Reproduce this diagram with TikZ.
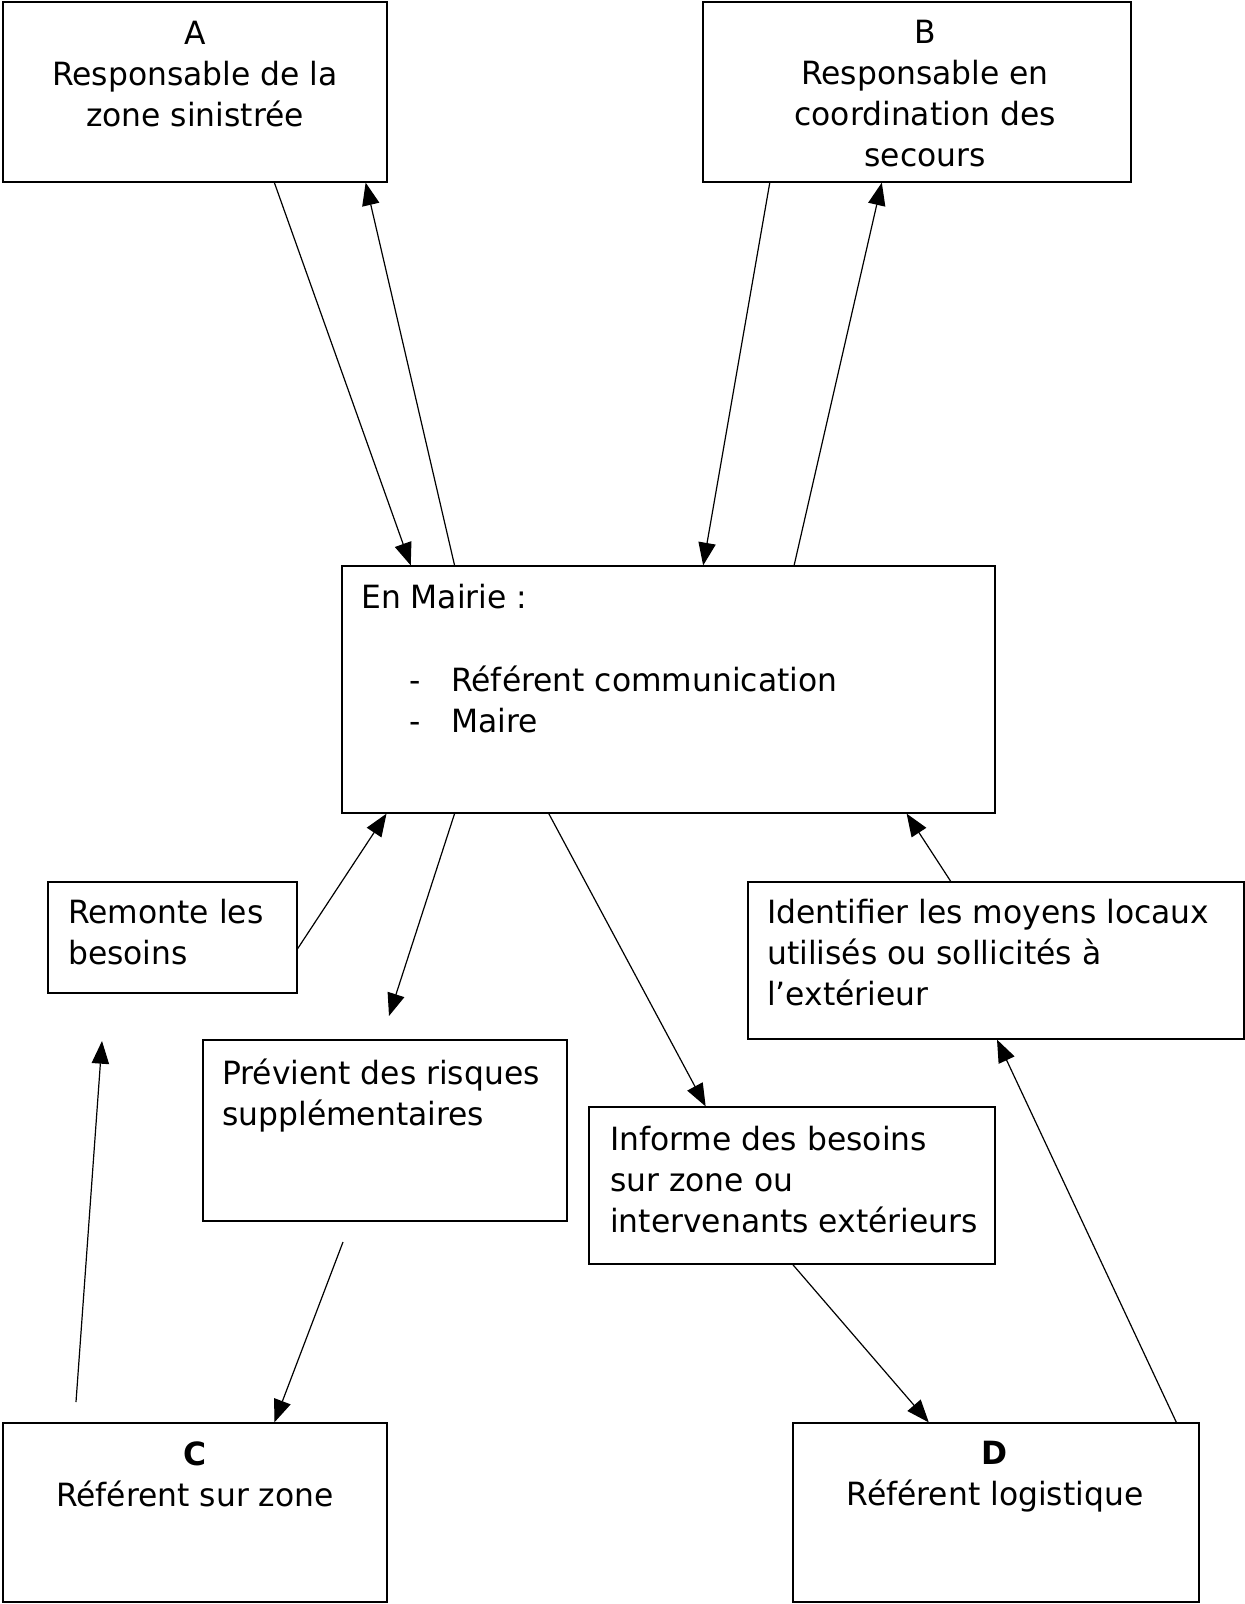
\documentclass[tikz,border=0pt]{standalone}
\usepackage{fontspec}
\setmainfont[FakeStretch=0.98]{DejaVu Sans}
\usetikzlibrary{calc,fit,arrows.meta}
\tikzset{
	box/.style={draw, line width=.9pt, inner sep=0pt},
	boxtext/.style={inner sep=0pt, font=\fontsize{24}{30.75}\selectfont},
	flow/.style={-{Triangle[length=17pt,width=13pt]}, line width=.9pt}
}

\begin{document}
\begin{tikzpicture}[x=.75pt, y=-.75pt]
	\useasboundingbox (0,0) rectangle (1245,1604);
	% boxes
	\foreach \boxName/\xA/\yA/\xB/\yB in {A/3/2/387/182, B/703/2/1131/182, mairie/342/566/995/813, remonte/48/882/297/993, previent/203/1040/567/1221, informe/589/1107/995/1264, identifier/748/882/1244/1039, C/3/1423/387/1602, D/793/1423/1199/1602}
	{
		\node[box, fit={(\xA,\yA) (\xB,\yB)}] (\boxName) {};
	}
	% texts
	\node[boxtext, align=center, anchor=north] (Atext) at (195,21) {A\\Responsable de la\\zone sinistrée};
	\node[boxtext, align=center, anchor=north] (Btext) at (925,20) {B\\Responsable en\\coordination des\\secours};
	\node[boxtext, anchor=north west] (mairieTitle) at (361,584) {En Mairie :};
	\node[boxtext, align=left, anchor=north west] (mairieList) at (409,666) {\makebox[31.5pt][l]{-}Référent communication\\\makebox[31.5pt][l]{-}Maire};
	\node[boxtext, align=left, anchor=north west] (remonteText) at (68,899) {Remonte les\\besoins};
	\node[boxtext, align=left, anchor=north west] (previentText) at (222,1059) {Prévient des risques\\supplémentaires};
	\node[boxtext, align=left, anchor=north west] (informeText) at (610,1126) {Informe des besoins\\sur zone ou\\intervenants extérieurs};
	\node[boxtext, align=left, anchor=north west] (identifierText) at (767,899) {Identifier les moyens locaux\\utilisés ou sollicités à\\l’extérieur};
	\node[boxtext, align=center, anchor=north] (Ctext) at (195,1441) {\bfseries C\\Référent sur zone};
	\node[boxtext, align=center, anchor=north] (Dtext) at (995,1441) {\bfseries D\\Référent logistique};
	% free ends
	\coordinate (previentTip) at (389,1016);
	\coordinate (previentStart) at (343,1242);
	\coordinate (cStart) at (76,1402);
	\coordinate (remonteTip) at (102,1041);
	% arrows
	\draw[flow] ($(A.south west)!.706!(A.south east)$) -- ($(mairie.north west)!.106!(mairie.north east)$);
	\draw[flow] ($(mairie.north west)!.173!(mairie.north east)$) -- ($(A.south west)!.943!(A.south east)$);
	\draw[flow] ($(B.south west)!.157!(B.south east)$) -- ($(mairie.north west)!.553!(mairie.north east)$);
	\draw[flow] ($(mairie.north west)!.692!(mairie.north east)$) -- ($(B.south west)!.418!(B.south east)$);
	\draw[flow] ($(remonte.north east)!.6!(remonte.south east)$) -- ($(mairie.south west)!.069!(mairie.south east)$);
	\draw[flow] ($(mairie.south west)!.173!(mairie.south east)$) -- (previentTip);
	\draw[flow] ($(mairie.south west)!.317!(mairie.south east)$) -- ($(informe.north west)!.288!(informe.north east)$);
	\draw[flow] ($(identifier.north west)!.409!(identifier.north east)$) -- ($(mairie.south west)!.864!(mairie.south east)$);
	\draw[flow] (cStart) -- (remonteTip);
	\draw[flow] (previentStart) -- ($(C.north west)!.706!(C.north east)$);
	\draw[flow] ($(informe.south west)!.502!(informe.south east)$) -- ($(D.north west)!.335!(D.north east)$);
	\draw[flow] ($(D.north west)!.943!(D.north east)$) -- ($(identifier.south west)!.502!(identifier.south east)$);
\end{tikzpicture}
\end{document}
